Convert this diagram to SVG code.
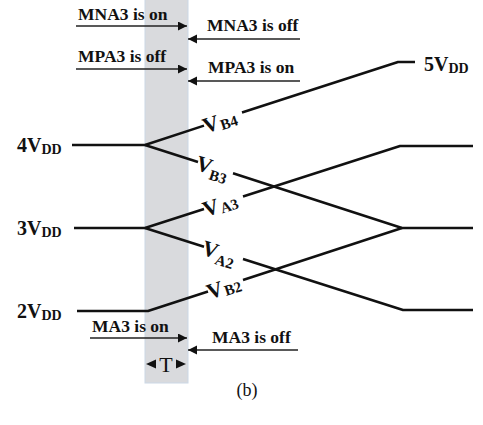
<svg xmlns="http://www.w3.org/2000/svg" width="483" height="425" viewBox="0 0 483 425">
<style>
.t{font-family:"Liberation Serif","Times New Roman",serif;font-weight:bold;font-size:17.5px;fill:#111}
.v{font-family:"Liberation Serif","Times New Roman",serif;font-weight:bold;font-size:22px;fill:#111}
.s{font-size:15px}
.ls{font-family:"Liberation Serif","Times New Roman",serif;font-weight:bold;font-size:20px;fill:#111}
.ss{font-size:14px}
.w{stroke:#111;stroke-width:2.5;fill:none;stroke-linejoin:round}
.a{stroke:#222;stroke-width:1.5;fill:none}
</style>
<defs>
<marker id="ah" markerUnits="userSpaceOnUse" markerWidth="10" markerHeight="10" refX="9" refY="4.5" orient="auto">
<path d="M0,0 L9,4.5 L0,9 z" fill="#111"/>
</marker>
</defs>
<g id="band">
<rect x="145" y="-2" width="43" height="385" fill="#d9dadd" stroke="#cbd8e6" stroke-width="1"/>
</g>
<g id="connectors">
<path class="w" d="M72,145 L145,145 L204,125.6"/>
<path class="w" d="M242,112.5 L398,62 L415,62"/>
<path class="w" d="M145,145 L198,162"/>
<path class="w" d="M233,173.3 L402,228 L473,228"/>
<path class="w" d="M74,228 L145,228 L204,209"/>
<path class="w" d="M243,196.5 L400,146 L473,146"/>
<path class="w" d="M145,228 L204,246.8"/>
<path class="w" d="M243,259 L403,310 L473,310"/>
<path class="w" d="M77,311 L148,311 L208,291.5"/>
<path class="w" d="M243,280 L402,228"/>
<line class="a" x1="76" y1="26" x2="187" y2="26" marker-end="url(#ah)"/>
<line class="a" x1="300" y1="39" x2="188" y2="39" marker-end="url(#ah)"/>
<line class="a" x1="76" y1="69" x2="187" y2="69" marker-end="url(#ah)"/>
<line class="a" x1="300" y1="81" x2="188" y2="81" marker-end="url(#ah)"/>
<line class="a" x1="90" y1="338" x2="187" y2="338" marker-end="url(#ah)"/>
<line class="a" x1="298" y1="350" x2="188" y2="350" marker-end="url(#ah)"/>
</g>
<g id="arrow-labels">
<text class="t" x="78" y="20">MNA3 is on</text>
<text class="t" x="207" y="31">MNA3 is off</text>
<text class="t" x="78" y="62">MPA3 is off</text>
<text class="t" x="208" y="73">MPA3 is on</text>
<text class="t" x="92" y="332">MA3 is on</text>
<text class="t" x="212" y="343">MA3 is off</text>
</g>
<g id="levels">
<text class="ls" x="17" y="152">4V<tspan class="ss" dy="2">DD</tspan></text>
<text class="ls" x="17" y="235">3V<tspan class="ss" dy="2">DD</tspan></text>
<text class="ls" x="17" y="318">2V<tspan class="ss" dy="2">DD</tspan></text>
<text class="ls" x="424" y="71">5V<tspan class="ss" dy="2">DD</tspan></text>
</g>
<g id="node-VB4" transform="translate(203,125.9) rotate(-18)"><text class="v" x="0" y="8">V<tspan class="s" dx="1" dy="2">B4</tspan></text></g>
<g id="node-VB3" transform="translate(197,161.7) rotate(18)"><text class="v" x="0" y="8">V<tspan class="s" dx="0" dy="5">B3</tspan></text></g>
<g id="node-VA3" transform="translate(203,209.3) rotate(-18)"><text class="v" x="0" y="8">V<tspan class="s" dx="1" dy="2">A3</tspan></text></g>
<g id="node-VA2" transform="translate(203,246.5) rotate(18)"><text class="v" x="0" y="8">V<tspan class="s" dx="0" dy="5">A2</tspan></text></g>
<g id="node-VB2" transform="translate(207,291.8) rotate(-18)"><text class="v" x="0" y="8">V<tspan class="s" dx="1" dy="2">B2</tspan></text></g>
<g id="period">
<polygon points="146,364 156,359.5 156,368.5" fill="#111"/>
<polygon points="186,364 176,359.5 176,368.5" fill="#111"/>
<text x="166" y="372" text-anchor="middle" font-family="Liberation Serif, Times New Roman, serif" font-size="22" fill="#111">T</text>
</g>
<text x="247" y="396" text-anchor="middle" font-family="Liberation Serif, Times New Roman, serif" font-size="18" fill="#111">(b)</text>
</svg>
